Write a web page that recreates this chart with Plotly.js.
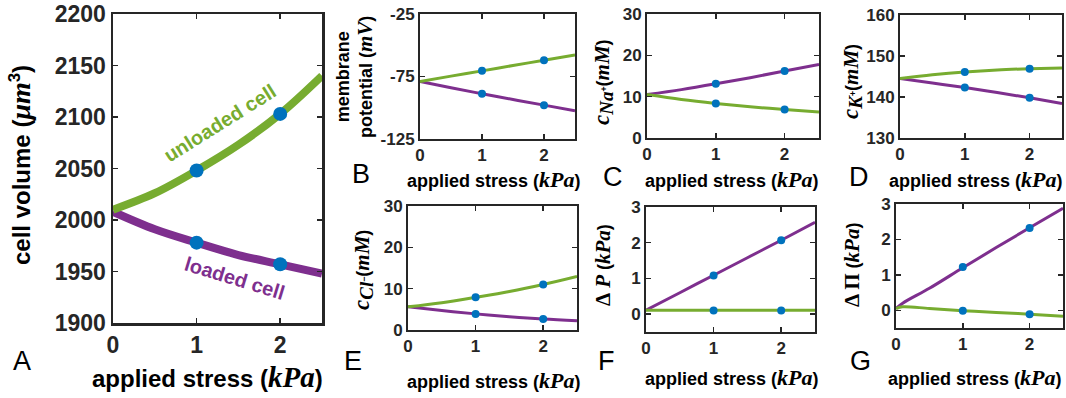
<!DOCTYPE html>
<html>
<head>
<meta charset="utf-8">
<script src="https://cdn.plot.ly/plotly-3.0.1.min.js"></script>
<style>html,body{margin:0;padding:0;background:#fff;}</style>
</head>
<body>
<div id="chart" style="width:1066px;height:398px;"></div>
<script>
// ---- data ----
const stress = [0, 0.5, 1, 1.5, 2, 2.5];
const stressG = [0, 0.1, 0.5, 1, 1.5, 2, 2.5];
const dotStress = [1, 2];

const volUnloaded = [2010, 2026, 2048, 2073, 2103, 2140];
const volLoaded   = [2008, 1991, 1978, 1966, 1957, 1948];
const volUnloadedDots = [2048, 2103];
const volLoadedDots   = [1978, 1957];

const vmUnloaded = [-79, -74.7, -70.5, -66.2, -62, -57.7];
const vmLoaded   = [-79, -84, -88.8, -93.4, -97.9, -102.4];
const vmUnloadedDots = [-70.5, -62];
const vmLoadedDots   = [-88.8, -97.9];

const naUnloaded = [10.5, 9.3, 8.35, 7.55, 6.9, 6.3];
const naLoaded   = [10.5, 11.7, 13.1, 14.6, 16.2, 17.8];
const naUnloadedDots = [8.35, 6.9];
const naLoadedDots   = [13.1, 16.2];

const kUnloaded = [144.5, 145.4, 146.1, 146.6, 146.9, 147.1];
const kLoaded   = [144.5, 143.4, 142.3, 141.1, 139.8, 138.4];
const kUnloadedDots = [146.1, 146.9];
const kLoadedDots   = [142.3, 139.8];

const clUnloaded = [5.6, 6.6, 7.9, 9.3, 11.0, 12.95];
const clLoaded   = [5.6, 4.7, 3.9, 3.2, 2.65, 2.25];
const clUnloadedDots = [7.9, 11.0];
const clLoadedDots   = [3.9, 2.65];

const dpUnloaded = [0.11, 0.11, 0.11, 0.11, 0.11, 0.11];
const dpLoaded   = [0.11, 0.6, 1.09, 1.58, 2.07, 2.57];
const dpUnloadedDots = [0.1, 0.1];
const dpLoadedDots   = [1.08, 2.07];

const dpiUnloaded = [0.05, 0.1, 0.05, -0.01, -0.06, -0.11, -0.17];
const dpiLoaded   = [0.05, 0.2, 0.62, 1.2, 1.77, 2.33, 2.88];
const dpiUnloadedDots = [-0.01, -0.11];
const dpiLoadedDots   = [1.22, 2.32];

const xTickVals = [0, 1, 2];
const xTickText = ['0', '1', '2'];
const vmTickVals = [-125, -75, -25];
const vmTickText = ['-125', '-75', '-25'];

// ---- style ----
const GREEN = '#77AC30', PURPLE = '#7E2F8E', BLUE = '#0072BD', INK = '#262626';
const SANS = 'Liberation Sans, Arial, sans-serif';
const SERIF = 'Liberation Serif';
const m = (s, fs) => '<span style="font-family:' + SERIF + ';font-size:' + fs + 'px"><i>' + s + '</i></span>';

const traces = [];
function panel(idx, xs, green, purple, gDots, pDots, lw, ms) {
  const xa = idx === 1 ? 'x' : 'x' + idx;
  const ya = idx === 1 ? 'y' : 'y' + idx;
  traces.push({x: xs, y: purple, xaxis: xa, yaxis: ya, mode: 'lines', line: {color: PURPLE, width: lw, shape: 'spline'}, hoverinfo: 'skip'});
  traces.push({x: xs, y: green, xaxis: xa, yaxis: ya, mode: 'lines', line: {color: GREEN, width: lw, shape: 'spline'}, hoverinfo: 'skip'});
  traces.push({x: dotStress, y: gDots, xaxis: xa, yaxis: ya, mode: 'markers', marker: {color: BLUE, size: ms}, hoverinfo: 'skip'});
  traces.push({x: dotStress, y: pDots, xaxis: xa, yaxis: ya, mode: 'markers', marker: {color: BLUE, size: ms}, hoverinfo: 'skip'});
}
panel(1, stress, volUnloaded, volLoaded, volUnloadedDots, volLoadedDots, 8, 14);
panel(2, stress, vmUnloaded, vmLoaded, vmUnloadedDots, vmLoadedDots, 3, 8);
panel(3, stress, naUnloaded, naLoaded, naUnloadedDots, naLoadedDots, 3, 8);
panel(4, stress, kUnloaded, kLoaded, kUnloadedDots, kLoadedDots, 3, 8);
panel(5, stress, clUnloaded, clLoaded, clUnloadedDots, clLoadedDots, 3, 8);
panel(6, stress, dpUnloaded, dpLoaded, dpUnloadedDots, dpLoadedDots, 3, 8);
panel(7, stressG, dpiUnloaded, dpiLoaded, dpiUnloadedDots, dpiLoadedDots, 3, 8);

const W = 1066, H = 398;
const px = v => v / W, py = v => 1 - v / H;

function ax(domain, range, fs, lw, extra) {
  return Object.assign({
    domain: domain, range: range, showline: true, linecolor: INK, linewidth: lw,
    mirror: 'ticks', ticks: 'inside', ticklen: 5, tickwidth: 1.5, tickcolor: INK,
    showgrid: false, zeroline: false, fixedrange: true,
    tickfont: {family: SANS, size: fs, color: INK, weight: 'bold'}
  }, extra || {});
}

const layout = {
  width: W, height: H, margin: {l: 0, r: 0, t: 0, b: 0},
  paper_bgcolor: '#fff', plot_bgcolor: '#fff', showlegend: false,
  xaxis:  ax([px(113), px(322)], [0, 2.5], 23, 2.5, {anchor: 'y', tickvals: xTickVals, ticktext: xTickText}),
  yaxis:  ax([py(323), py(14)], [1900, 2200], 23, 2.5, {anchor: 'x', dtick: 50}),
  xaxis2: ax([px(420), px(575)], [0, 2.5], 17, 2, {anchor: 'y2', tickvals: xTickVals, ticktext: xTickText}),
  yaxis2: ax([py(139), py(14)], [-125, -25], 17, 2, {anchor: 'x2', tickvals: vmTickVals, ticktext: vmTickText}),
  xaxis3: ax([px(647), px(819)], [0, 2.5], 17, 2, {anchor: 'y3', tickvals: xTickVals, ticktext: xTickText}),
  yaxis3: ax([py(138), py(14)], [0, 30], 17, 2, {anchor: 'x3', dtick: 10}),
  xaxis4: ax([px(900), px(1062)], [0, 2.5], 17, 2, {anchor: 'y4', tickvals: xTickVals, ticktext: xTickText}),
  yaxis4: ax([py(138), py(15)], [130, 160], 17, 2, {anchor: 'x4', dtick: 10}),
  xaxis5: ax([px(408), px(577)], [0, 2.5], 17, 2, {anchor: 'y5', tickvals: xTickVals, ticktext: xTickText}),
  yaxis5: ax([py(330), py(206)], [0, 30], 17, 2, {anchor: 'x5', dtick: 10}),
  xaxis6: ax([px(646), px(815)], [0, 2.5], 17, 2, {anchor: 'y6', tickvals: xTickVals, ticktext: xTickText}),
  yaxis6: ax([py(332), py(207)], [-0.5, 3], 17, 2, {anchor: 'x6', tickvals: [0, 1, 2, 3]}),
  xaxis7: ax([px(896), px(1063)], [0, 2.5], 17, 2, {anchor: 'y7', tickvals: xTickVals, ticktext: xTickText}),
  yaxis7: ax([py(328), py(204)], [-0.5, 3], 17, 2, {anchor: 'x7', tickvals: [0, 1, 2, 3]}),
  annotations: []
};

function ann(text, x, y, size, opts) {
  layout.annotations.push(Object.assign({
    text: text, x: px(x), y: py(y), xref: 'paper', yref: 'paper',
    xanchor: 'center', yanchor: 'middle', showarrow: false,
    font: {family: SANS, size: size, color: '#000', weight: 'bold'}
  }, opts || {}));
}

// x-axis titles
const xt = fs => 'applied stress (' + m('kPa', Math.round(fs * 1.2)) + ')';
ann(xt(24), 207, 377, 24);
ann(xt(18), 494, 180, 18);
ann(xt(18), 732, 180, 18);
ann(xt(18), 976, 180, 18);
ann(xt(18), 494, 380, 18);
ann(xt(18), 732, 377, 18);
ann(xt(18), 975, 377, 18);

// y-axis titles
const M = 21;
ann('cell volume (' + m('μm', 28) + '<sup>3</sup>)', 21, 165, 24, {textangle: -90});
ann('membrane<br>potential (' + m('mV', M) + ')', 355, 77, 18, {textangle: -90});
ann(m('c', M + 2) + '<sub>' + m('Na', M - 2) + '<sup>+</sup></sub>(' + m('mM', M) + ')', 603, 82, 18, {textangle: -90});
ann(m('c', M + 2) + '<sub>' + m('K', M - 2) + '<sup>+</sup></sub>(' + m('mM', M) + ')', 852, 82, 18, {textangle: -90});
ann(m('c', M + 2) + '<sub>' + m('Cl', M - 2) + '<sup>−</sup></sub>(' + m('mM', M) + ')', 363, 270, 18, {textangle: -90});
ann('<span style="font-family:' + SERIF + ';font-size:' + M + 'px">Δ</span> ' + m('P', M) + ' (' + m('kPa', M) + ')', 603, 265, 18, {textangle: -90});
ann('<span style="font-family:' + SERIF + ';font-size:' + M + 'px">Δ Π</span> (' + m('kPa', M) + ')', 852, 265, 18, {textangle: -90});

// panel letters
const letterFont = {family: SANS, size: 27, color: '#000', weight: 'normal'};
[['A', 22, 361], ['B', 361, 174], ['C', 613, 177], ['D', 859, 177],
 ['E', 353, 361], ['F', 606, 361], ['G', 860, 361]].forEach(d => ann(d[0], d[1], d[2], 27, {font: letterFont}));

// curve labels in panel A
ann('unloaded cell', 220, 123, 20, {textangle: -32, font: {family: SANS, size: 20, color: GREEN, weight: 'bold'}});
ann('loaded cell', 234, 278, 20, {textangle: 17, font: {family: SANS, size: 20, color: PURPLE, weight: 'bold'}});

Plotly.newPlot('chart', traces, layout, {staticPlot: true, displayModeBar: false});
</script>
</body>
</html>
